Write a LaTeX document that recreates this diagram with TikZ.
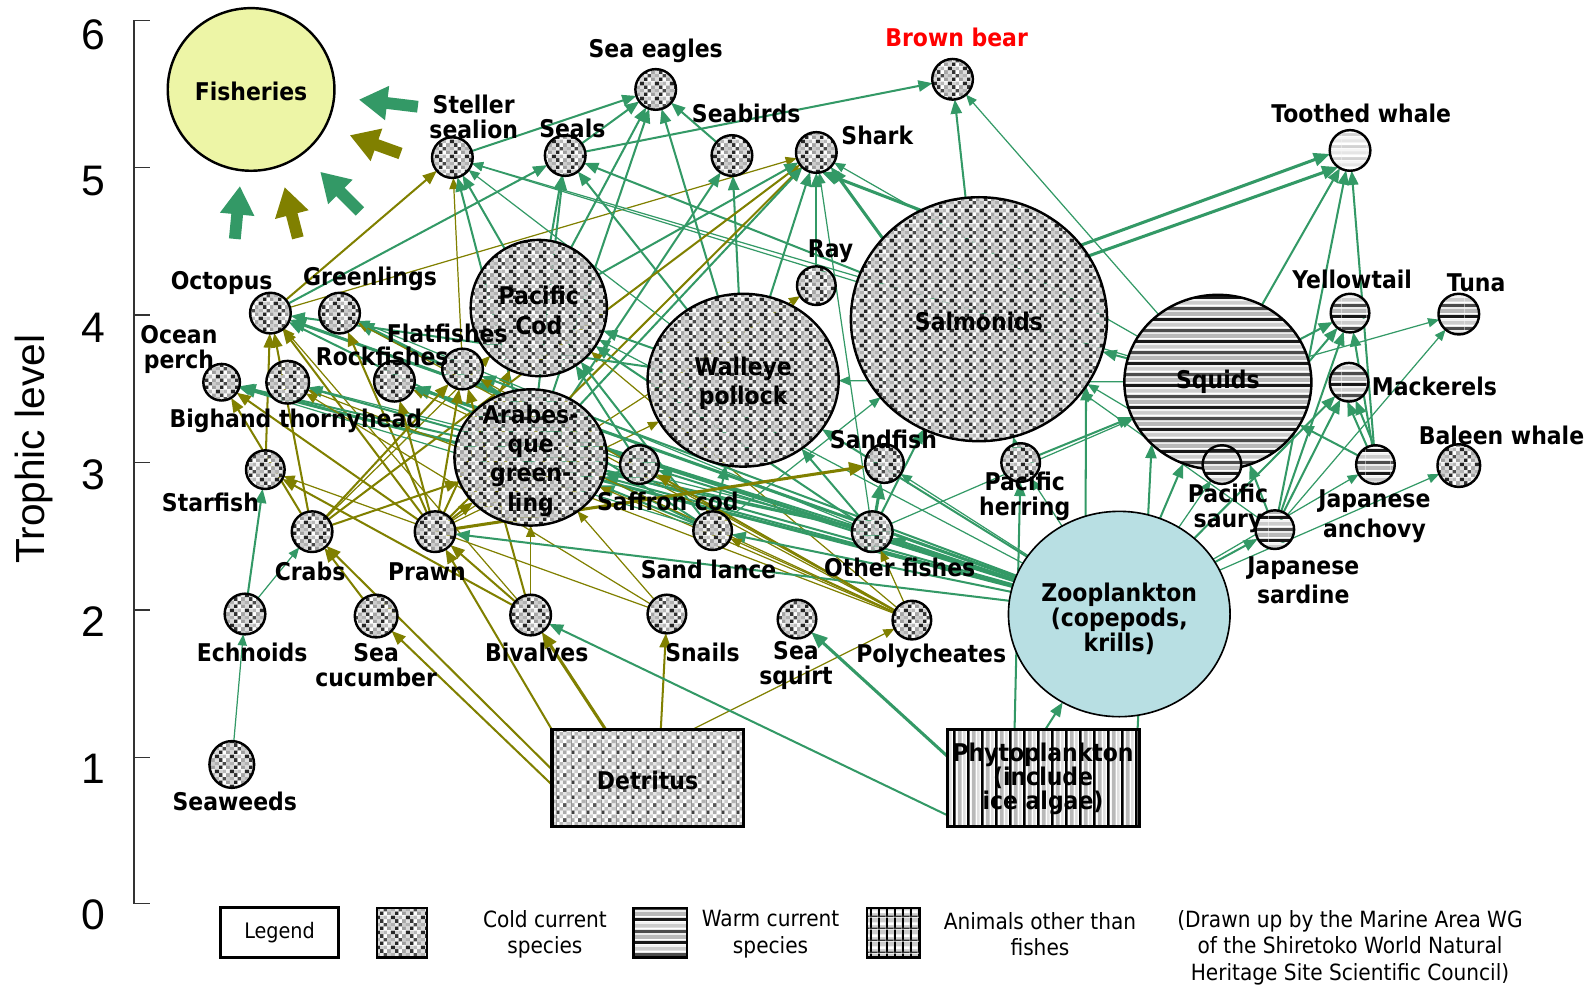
\documentclass[tikz,border=0pt]{standalone}
\usepackage{fontspec}
\setmainfont{DejaVu Sans}
\newfontfamily\labfont[FakeStretch=0.9]{DejaVu Sans}
\newfontfamily\legfont[FakeStretch=0.9]{DejaVu Sans}
\newfontfamily\axfont{Liberation Sans}
\usetikzlibrary{arrows.meta,patterns,shapes.geometric}
\pgfdeclarelayer{edgelayer}
\pgfsetlayers{edgelayer,main}
\definecolor{gcol}{RGB}{51,153,102}
\definecolor{ocol}{RGB}{128,128,0}
\definecolor{fishfill}{RGB}{237,245,166}
\definecolor{zoofill}{RGB}{184,223,227}
\definecolor{bearred}{RGB}{255,0,0}
\newcommand\pcell[3]{\pgfsetfillcolor{#3}\pgfpathrectangle{\pgfpoint{#1*1.8pt}{#2*1.8pt}}{\pgfqpoint{1.8pt}{1.8pt}}\pgfusepath{fill}}
\newcommand\hband[3]{\pgfsetfillcolor{#3}\pgfpathrectangle{\pgfpoint{0pt}{#1}}{\pgfpoint{12pt}{#2}}\pgfusepath{fill}}
\newcommand\vband[3]{\pgfsetfillcolor{#3}\pgfpathrectangle{\pgfpoint{#1}{0pt}}{\pgfpoint{#2}{12pt}}\pgfusepath{fill}}
\pgfdeclarepatterninherentlycolored{coldpat}{\pgfpointorigin}{\pgfqpoint{7.2pt}{7.2pt}}{\pgfqpoint{7.2pt}{7.2pt}}{%
  \pcell{0}{0}{black!85}\pcell{1}{0}{white}\pcell{2}{0}{gray!75}\pcell{3}{0}{gray!30}%
  \pcell{0}{1}{gray!15}\pcell{1}{1}{black!70}\pcell{2}{1}{gray!40}\pcell{3}{1}{gray!60}%
  \pcell{0}{2}{black!80}\pcell{1}{2}{white}\pcell{2}{2}{gray!70}\pcell{3}{2}{gray!25}%
  \pcell{0}{3}{gray!35}\pcell{1}{3}{gray!55}\pcell{2}{3}{gray!10}\pcell{3}{3}{black!85}%
}
\pgfdeclarepatterninherentlycolored{detpat}{\pgfpointorigin}{\pgfqpoint{7.2pt}{7.2pt}}{\pgfqpoint{7.2pt}{7.2pt}}{%
  \pgfsetfillcolor{gray!35}\pgfpathrectangle{\pgfpointorigin}{\pgfqpoint{7.2pt}{7.2pt}}\pgfusepath{fill}%
  \pcell{0}{0}{black!75}\pcell{1}{0}{gray!10}\pcell{2}{0}{gray!65}\pcell{3}{0}{white}%
  \pcell{0}{1}{white}\pcell{1}{1}{gray!55}\pcell{2}{1}{gray!20}\pcell{3}{1}{gray!45}%
  \pcell{0}{2}{gray!65}\pcell{1}{2}{white}\pcell{2}{2}{black!65}\pcell{3}{2}{gray!15}%
  \pcell{0}{3}{gray!10}\pcell{1}{3}{gray!40}\pcell{2}{3}{white}\pcell{3}{3}{gray!60}%
  \pgfsetfillcolor{gray!80}\pgfpathrectangle{\pgfpointorigin}{\pgfqpoint{0.5pt}{7.2pt}}\pgfusepath{fill}%
}
\pgfdeclarepatterninherentlycolored{warmpat}{\pgfpointorigin}{\pgfqpoint{12pt}{11pt}}{\pgfqpoint{12pt}{11pt}}{%
  \hband{0pt}{11pt}{white}%
  \hband{0pt}{1.6pt}{black!90}%
  \hband{2.6pt}{2pt}{gray!55}%
  \hband{4.6pt}{0.9pt}{gray!15}%
  \hband{5.5pt}{1.6pt}{black!70}%
  \hband{8.2pt}{1.8pt}{gray!40}%
  \hband{10pt}{1pt}{gray!10}%
}
\pgfdeclarepatterninherentlycolored{lightpat}{\pgfpointorigin}{\pgfqpoint{12pt}{6pt}}{\pgfqpoint{12pt}{6pt}}{%
  \hband{0pt}{6pt}{gray!8}%
  \hband{0pt}{1.5pt}{gray!35}%
  \hband{1.5pt}{1.5pt}{white}%
  \hband{3pt}{1.5pt}{gray!20}%
}
\pgfdeclarepatterninherentlycolored{phypat}{\pgfpointorigin}{\pgfqpoint{7pt}{12pt}}{\pgfqpoint{7pt}{12pt}}{%
  \vband{0pt}{7pt}{white}%
  \vband{0pt}{1.3pt}{black}%
  \vband{2.5pt}{2pt}{gray!55}%
  \vband{5.3pt}{1.2pt}{gray!25}%
}
\pgfdeclarepatterninherentlycolored{gridpat}{\pgfpointorigin}{\pgfqpoint{4pt}{6pt}}{\pgfqpoint{4pt}{6pt}}{%
  \pgfsetfillcolor{gray!40}\pgfpathrectangle{\pgfpointorigin}{\pgfqpoint{4pt}{6pt}}\pgfusepath{fill}%
  \pgfsetfillcolor{white}\pgfpathrectangle{\pgfqpoint{0pt}{2pt}}{\pgfqpoint{4pt}{1.5pt}}\pgfusepath{fill}%
  \pgfsetfillcolor{black}\pgfpathrectangle{\pgfpointorigin}{\pgfqpoint{1pt}{6pt}}\pgfusepath{fill}%
  \pgfsetfillcolor{black!80}\pgfpathrectangle{\pgfpointorigin}{\pgfqpoint{4pt}{0.7pt}}\pgfusepath{fill}%
}
\tikzset{
  bn/.style={ellipse, draw, line width=1.2pt, inner sep=0pt, outer sep=0pt},
  cold/.style={bn, pattern=coldpat},
  warm/.style={bn, pattern=warmpat},
  lightw/.style={bn, pattern=lightpat},
  sz/.style={minimum width=#1pt, minimum height=#1pt},
  lab/.style={font={\labfont\bfseries\fontsize{12}{12.4}\selectfont}, align=center, inner sep=0pt},
  leg/.style={font={\legfont\fontsize{11}{13}\selectfont}, align=center, inner sep=0pt},
  axnum/.style={font={\axfont\fontsize{21}{24}\selectfont}, inner sep=0pt},
  gthin/.style={draw=gcol, line width=0.6pt, -{Triangle[length=5.5pt,width=4.5pt]}},
  gmed/.style={draw=gcol, line width=1pt, -{Triangle[length=7pt,width=5.5pt]}},
  gthick/.style={draw=gcol, line width=1.5pt, -{Triangle[length=8pt,width=6.5pt]}},
  othin/.style={draw=ocol, line width=0.6pt, -{Triangle[length=5.5pt,width=4.5pt]}},
  omed/.style={draw=ocol, line width=1pt, -{Triangle[length=7pt,width=5.5pt]}},
  othick/.style={draw=ocol, line width=1.5pt, -{Triangle[length=8pt,width=6.5pt]}},
  fisharr/.style={line width=5.8pt, -{Triangle[length=14pt,width=16pt]}}
}
\begin{document}
\begin{tikzpicture}[x=0.5pt,y=-0.5pt]
\useasboundingbox (0,0) rectangle (1568,973);

% ---------- axis ----------
\coordinate (axt) at (132,20);
\coordinate (axb) at (132,889);
\draw[line width=0.7pt, black!80] (axt) -- (axb);
\foreach \yy in {20,165,310,455,600,745,889} \draw[line width=0.7pt, black!80] (132,\yy) -- (148,\yy);
\foreach \v/\yy in {6/34,5/178,4/322,3/467,2/611,1/756,0/900} \node[axnum] (ax\v) at (92,\yy) {\v};
\node[rotate=90, font={\axfont\fontsize{20}{24}\selectfont}, inner sep=0pt] (ylab) at (33,442) {Trophic level};

% ---------- nodes ----------
\node[bn, fill=fishfill, minimum width=82pt, minimum height=80pt] (fish) at (247,88) {};
\node[cold,sz=20] (sstl) at (445,155) {};
\node[cold,sz=20] (seals) at (556,153) {};
\node[cold,sz=20] (eagles) at (645,88) {};
\node[cold,sz=20] (seabirds) at (720,153) {};
\node[cold,sz=20] (shark) at (803,150) {};
\node[cold,sz=20] (bear) at (937,78) {};
\node[lightw,sz=20] (twhale) at (1328,148) {};
\node[cold,sz=20] (octo) at (266,308) {};
\node[cold,sz=20] (green) at (334,308) {};
\node[cold, minimum width=67pt, minimum height=67pt] (cod) at (530,303) {};
\node[cold,sz=19] (ray) at (803,281) {};
\node[cold, minimum width=126pt, minimum height=120pt] (salm) at (963,314) {};
\node[cold, minimum width=94pt, minimum height=85pt] (walleye) at (731,374) {};
\node[warm, minimum width=92pt, minimum height=86pt] (squids) at (1198,376) {};
\node[warm,sz=19] (ytail) at (1328,308) {};
\node[warm,sz=20] (tuna) at (1435,309) {};
\node[warm,sz=19] (mack) at (1327,376) {};
\node[cold,sz=21] (baleen) at (1435,458) {};
\node[warm,sz=19] (janch) at (1353,457) {};
\node[warm,sz=19] (psaury) at (1202,457) {};
\node[warm,sz=19] (jsard) at (1254,521) {};
\node[cold,sz=19] (pherr) at (1004,455) {};
\node[bn, line width=0.8pt, fill=zoofill, minimum width=109pt, minimum height=101pt] (zoo) at (1101,604) {};
\node[cold,sz=19] (sandfish) at (870,456) {};
\node[cold,sz=20] (othf) at (858,523) {};
\node[cold,sz=19] (sandl) at (701,522) {};
\node[cold,sz=19] (saffron) at (629,457) {};
\node[cold, minimum width=75pt, minimum height=67pt] (arab) at (522,450) {};
\node[cold,sz=20] (flat) at (455,363) {};
\node[cold,sz=20] (rock) at (388,375) {};
\node[cold,sz=18] (operch) at (218,376) {};
\node[cold,sz=21] (bighand) at (283,376) {};
\node[cold,sz=19] (star) at (261,462) {};
\node[cold,sz=20] (crabs) at (307,523) {};
\node[cold,sz=20] (prawn) at (428,523) {};
\node[cold,sz=20] (echn) at (241,604) {};
\node[cold,sz=21] (seacuc) at (370,606) {};
\node[cold,sz=20] (biv) at (522,605) {};
\node[cold,sz=19] (snails) at (656,604) {};
\node[cold,sz=19] (seasq) at (784,609) {};
\node[cold,sz=19] (poly) at (897,610) {};
\node[cold, minimum width=22pt, minimum height=23pt] (seaweed) at (228,752) {};
\node[rectangle, draw, line width=1.5pt, inner sep=0pt, pattern=detpat, minimum width=94pt, minimum height=47.5pt] (det) at (637,765.5) {};
\node[rectangle, draw, line width=1.5pt, inner sep=0pt, pattern=phypat, minimum width=94.5pt, minimum height=47.5pt] (phyto) at (1026.5,765.5) {};

% border points on the two boxes
\coordinate (det-cr) at (543,757);
\coordinate (det-sc) at (543,772);
\coordinate (det-pr) at (543,718);
\coordinate (det-bv) at (596,718);
\coordinate (det-sn) at (650,718);
\coordinate (det-po) at (680,718);
\coordinate (ph-sq) at (932,744);
\coordinate (ph-bv) at (932,802);
\coordinate (ph-he) at (998,718);
\coordinate (ph-zo) at (1028,718);
\coordinate (ph-su) at (1119,718);

% ---------- fisheries block arrows ----------
\coordinate (fa1s) at (411,105); \coordinate (fa1t) at (353,98);
\coordinate (fa2s) at (394,151); \coordinate (fa2t) at (344,133);
\coordinate (fa3s) at (354,208); \coordinate (fa3t) at (315,169);
\coordinate (fa4s) at (293,234); \coordinate (fa4t) at (280,184);
\coordinate (fa5s) at (231,235); \coordinate (fa5t) at (236,183);
\draw[fisharr, gcol] (fa1s) -- (fa1t);
\draw[fisharr, ocol] (fa2s) -- (fa2t);
\draw[fisharr, gcol] (fa3s) -- (fa3t);
\draw[fisharr, ocol] (fa4s) -- (fa4t);
\draw[fisharr, gcol] (fa5s) -- (fa5t);

% ---------- edges ----------
\begin{pgfonlayer}{edgelayer}
% top predators
\draw[gmed] (sstl) -- (eagles);
\draw[gmed] (seals) -- (bear);
\draw[gmed] (seals) -- (eagles);
\draw[omed] (octo) -- (sstl);
\draw[gmed] (octo) -- (seals);
\draw[othin] (octo) -- (shark);
\draw[othin] (flat) -- (sstl);
\draw[gmed] (cod) -- (sstl);
\draw[gmed] (arab) -- (sstl);
\draw[gthin] (walleye) -- (sstl);
\draw[gthin] (salm) -- (sstl);
\draw[gthin] (squids) -- (sstl);
\draw[gmed] (cod) -- (seals);
\draw[gmed] (arab) -- (seals);
\draw[gmed] (walleye) -- (seals);
\draw[gmed] (salm) -- (seals);
\draw[gmed] (cod) -- (eagles);
\draw[gmed] (arab) -- (eagles);
\draw[gmed] (walleye) -- (eagles);
\draw[gmed] (seabirds) -- (eagles);
\draw[gmed] (arab) -- (seabirds);
\draw[gmed] (walleye) -- (seabirds);
\draw[omed] (crabs) -- (shark);
\draw[omed] (prawn) -- (shark);
\draw[gmed] (cod) -- (shark);
\draw[gmed] (arab) -- (shark);
\draw[gmed] (walleye) -- (shark);
\draw[gmed] (ray) -- (shark);
\draw[gthick] (salm.140) -- (shark.-45);
\draw[gthick] (salm.118) -- (shark.-75);
\draw[gthin] (squids) -- (shark);
\draw[gthin] (othf) -- (shark);
\draw[gmed] (salm) -- (bear);
\draw[gthin] (squids) -- (bear);
\draw[gthick] (salm.36) -- (twhale.190);
\draw[gthick] (salm.30) -- (twhale.235);
\draw[gmed] (squids) -- (twhale);
\draw[gmed] (jsard) -- (twhale);
\draw[gmed] (janch) -- (twhale);
\draw[othin] (prawn) -- (ray);
% middle fishes
\draw[gmed] (walleye) -- (cod);
\draw[gmed] (sandl) -- (cod);
\draw[gthin] (zoo) -- (cod);
\draw[gmed] (othf) -- (cod);
\draw[gmed] (saffron) -- (cod);
\draw[omed] (prawn) -- (cod);
\draw[othin] (crabs) -- (cod);
\draw[othin] (poly) -- (cod);
\draw[gmed] (zoo) -- (arab);
\draw[gmed] (sandl) -- (arab);
\draw[gmed] (othf) -- (arab);
\draw[omed] (prawn) -- (arab);
\draw[omed] (crabs) -- (arab);
\draw[othin] (biv) -- (arab);
\draw[othin] (poly) -- (arab);
\draw[othin] (snails) -- (arab);
\draw[gmed] (zoo) -- (walleye);
\draw[gmed] (othf) -- (walleye);
\draw[gmed] (sandl) -- (walleye);
\draw[gthin] (squids) -- (walleye);
\draw[othin] (prawn) -- (walleye);
\draw[gmed] (zoo.109) -- (salm.-32);
\draw[gmed] (pherr) -- (salm);
\draw[gmed] (othf) -- (salm);
\draw[gmed] (squids) -- (salm);
\draw[gthin] (jsard) -- (salm);
\draw[gthin] (psaury) -- (salm);
\draw[gthin] (sandl) -- (salm);
% squids and warm current species
\draw[gmed] (zoo) -- (squids);
\draw[gmed] (ph-su) -- (squids.-137);
\draw[gmed] (jsard) -- (squids);
\draw[gmed] (janch) -- (squids);
\draw[gmed] (pherr) -- (squids);
\draw[gthin] (othf) -- (squids);
\draw[gmed] (jsard) -- (ytail);
\draw[gmed] (psaury) -- (ytail);
\draw[gmed] (janch) -- (ytail);
\draw[gmed] (squids) -- (ytail);
\draw[gthin] (squids) -- (tuna);
\draw[gthin] (jsard) -- (tuna);
\draw[gmed] (zoo) -- (mack);
\draw[gmed] (janch.95) -- (mack.-70);
\draw[gmed] (janch.115) -- (mack.-95);
\draw[gmed] (jsard) -- (mack);
\draw[gthin] (zoo) -- (baleen);
\draw[gthin] (zoo) -- (janch);
\draw[gmed] (zoo) -- (jsard);
\draw[gthin] (zoo) -- (psaury);
\draw[gthin] (zoo) -- (pherr);
\draw[gmed] (ph-he) -- (pherr);
% left fishes
\draw[gmed] (walleye) -- (octo);
\draw[gthick] (zoo) -- (octo);
\draw[omed] (star) -- (octo);
\draw[omed] (crabs) -- (octo);
\draw[omed] (prawn) -- (octo);
\draw[othin] (biv) -- (octo);
\draw[gmed] (sandl) -- (octo);
\draw[gthick] (saffron) -- (green);
\draw[omed] (prawn) -- (green);
\draw[othin] (poly) -- (green);
\draw[gthin] (othf) -- (green);
\draw[gthick] (zoo) -- (operch);
\draw[gmed] (othf) -- (operch);
\draw[omed] (crabs) -- (operch);
\draw[omed] (prawn) -- (operch);
\draw[gthin] (sandl) -- (operch);
\draw[gmed] (zoo) -- (bighand);
\draw[othin] (poly) -- (bighand);
\draw[othin] (snails) -- (bighand);
\draw[gthin] (othf) -- (bighand);
\draw[gthick] (zoo) -- (rock);
\draw[gmed] (othf) -- (rock);
\draw[omed] (prawn) -- (rock);
\draw[othin] (poly) -- (rock);
\draw[gthin] (saffron) -- (rock);
\draw[gmed] (zoo) -- (flat);
\draw[gmed] (sandl) -- (flat);
\draw[omed] (prawn) -- (flat);
\draw[omed] (biv) -- (flat);
\draw[othin] (poly) -- (flat);
\draw[omed] (crabs) -- (flat);
\draw[gmed] (echn) -- (star);
\draw[omed] (biv) -- (star);
\draw[othin] (snails) -- (star);
\draw[gthin] (echn) -- (crabs);
\draw[omed] (det-cr) -- (crabs);
\draw[omed] (seacuc) -- (crabs);
\draw[omed] (det-pr) -- (prawn);
\draw[omed] (biv) -- (prawn);
\draw[gmed] (zoo) -- (prawn);
\draw[gmed] (zoo) -- (saffron);
\draw[omed] (poly) -- (saffron);
\draw[gmed] (zoo) -- (sandl);
\draw[othin] (poly) -- (sandl);
\draw[gmed] (zoo) -- (othf);
\draw[othin] (poly) -- (othf);
\draw[gthick] (othf) -- (sandfish);
\draw[othick] (prawn) -- (sandfish);
\draw[gthin] (zoo) -- (sandfish);
% bottom
\draw[gthin] (seaweed) -- (echn);
\draw[omed] (det-sn) -- (snails);
\draw[othick] (det-bv) -- (biv);
\draw[omed] (det-sc) -- (seacuc);
\draw[othin] (det-po) -- (poly);
\draw[gthick] (ph-sq) -- (seasq);
\draw[gmed] (ph-bv) -- (biv);
\draw[gmed] (ph-zo) -- (zoo);
\end{pgfonlayer}

% ---------- labels ----------
\node[lab] (l-fish) at (247,90) {Fisheries};
\node[lab] (l-sstl) at (466,115) {Steller\\sealion};
\node[lab] (l-seals) at (563,126) {Seals};
\node[lab] (l-eagles) at (645,50) {Sea eagles};
\node[lab] (l-seabirds) at (734,112) {Seabirds};
\node[lab] (l-shark) at (863,133) {Shark};
\node[lab, text=bearred] (l-bear) at (941,37) {Brown bear};
\node[lab] (l-twhale) at (1339,112) {Toothed whale};
\node[lab] (l-octo) at (218,278) {Octopus};
\node[lab] (l-green) at (364,274) {Greenlings};
\node[lab] (l-cod) at (530,305) {Pacific\\[2.5pt]Cod};
\node[lab] (l-ray) at (817,247) {Ray};
\node[lab] (l-salm) at (963,316) {Salmonids};
\node[lab] (l-walleye) at (731,377) {Walleye\\[2pt]pollock};
\node[lab] (l-squids) at (1198,376) {Squids};
\node[lab] (l-ytail) at (1330,275) {Yellowtail};
\node[lab] (l-tuna) at (1452,278) {Tuna};
\node[lab] (l-mack) at (1411,380) {Mackerels};
\node[lab] (l-baleen) at (1477,428) {Baleen whale};
\node[lab] (l-janch) at (1352,508) {Japanese\\[2.5pt]anchovy};
\node[lab] (l-jsard) at (1282,571) {Japanese\\[2pt]sardine};
\node[lab] (l-psaury) at (1208,500) {Pacific\\saury};
\node[lab] (l-pherr) at (1008,488) {Pacific\\herring};
\node[lab] (l-zoo) at (1101,609) {Zooplankton\\(copepods,\\krills)};
\node[lab] (l-sandfish) at (869,432) {Sandfish};
\node[lab] (l-othf) at (885,558) {Other fishes};
\node[lab] (l-sandl) at (697,560) {Sand lance};
\node[lab] (l-saffron) at (657,493) {Saffron cod};
\node[lab] (l-arab) at (522,453) {Arabes-\\[2pt]que\\[2pt]green-\\[2pt]ling};
\node[lab] (l-flat) at (440,328) {Flatfishes};
\node[lab] (l-rock) at (376,351) {Rockfishes};
\node[lab] (l-operch) at (176,344) {Ocean\\perch};
\node[lab] (l-bighand) at (291,414) {Bighand thornyhead};
\node[lab] (l-star) at (207,494) {Starfish};
\node[lab] (l-crabs) at (305,562) {Crabs};
\node[lab] (l-prawn) at (420,562) {Prawn};
\node[lab] (l-echn) at (248,642) {Echnoids};
\node[lab] (l-seacuc) at (370,654) {Sea\\cucumber};
\node[lab] (l-biv) at (528,642) {Bivalves};
\node[lab] (l-snails) at (691,642) {Snails};
\node[lab] (l-seasq) at (783,655) {Sea\\squirt};
\node[lab] (l-poly) at (916,645) {Polycheates};
\node[lab] (l-seaweed) at (231,788) {Seaweeds};
\node[lab] (l-det) at (637,768) {Detritus};
\node[lab, font={\labfont\bfseries\fontsize{12}{11.8}\selectfont}] (l-phyto) at (1026,766) {Phytoplankton\\(include\\ice algae)};

% ---------- legend ----------
\node[rectangle, draw, line width=1.5pt, minimum width=58pt, minimum height=24.5pt, inner sep=0pt, font={\legfont\fontsize{10.5}{12}\selectfont}] (leg) at (275,917.5) {Legend};
\node[rectangle, draw, line width=1.2pt, pattern=coldpat, minimum width=24.5pt, minimum height=24.5pt, inner sep=0pt] (sw-cold) at (395.5,917.5) {};
\node[rectangle, draw, line width=1.2pt, pattern=warmpat, minimum width=26.5pt, minimum height=24.5pt, inner sep=0pt] (sw-warm) at (649.5,917.5) {};
\node[rectangle, draw, line width=1.2pt, pattern=gridpat, minimum width=26pt, minimum height=24.5pt, inner sep=0pt] (sw-anim) at (879,917.5) {};
\node[leg] (t-cold) at (536,919) {Cold current\\species};
\node[leg] (t-warm) at (758,919) {Warm current\\species};
\node[leg] (t-anim) at (1023,919) {Animals other than\\fishes};
\node[leg] (t-credit) at (1328,932) {(Drawn up by the Marine Area WG\\of the Shiretoko World Natural\\Heritage Site Scientific Council)};
\end{tikzpicture}
\end{document}
